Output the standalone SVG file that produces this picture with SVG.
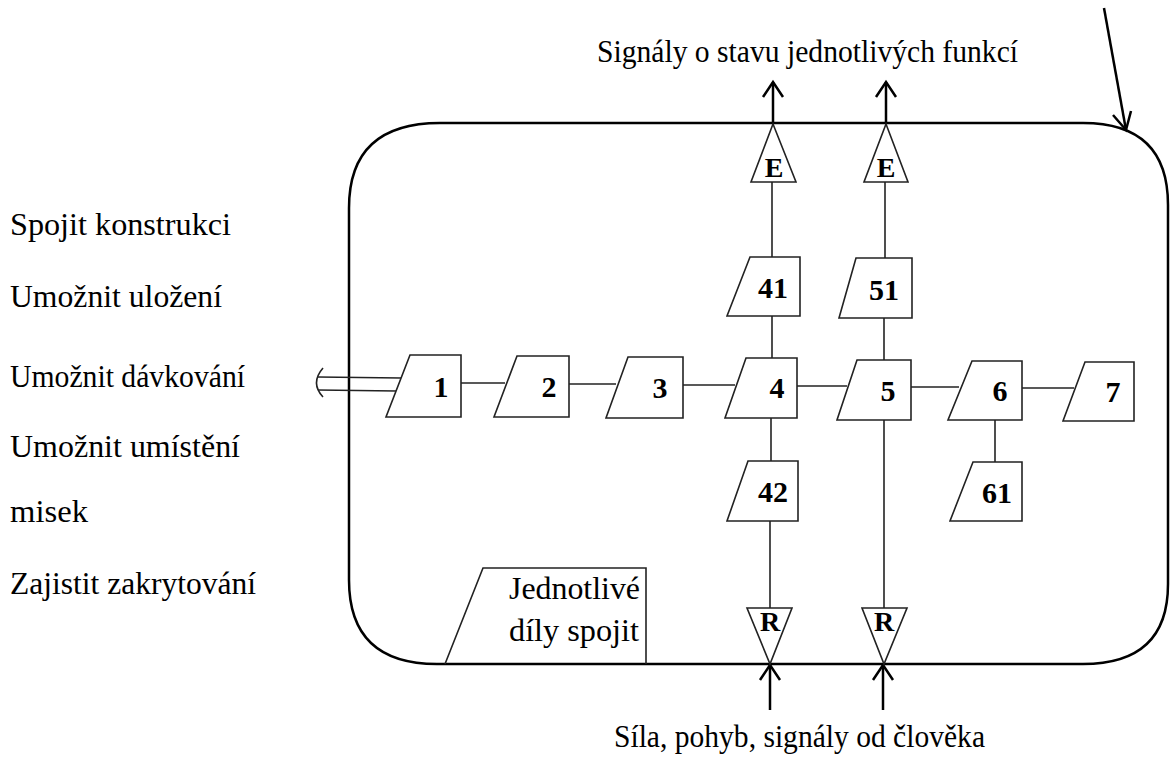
<svg xmlns="http://www.w3.org/2000/svg" width="1171" height="767" viewBox="0 0 1171 767">
<defs>
<style>
.frame{fill:none;stroke:#000;stroke-width:2.5}
.box{fill:#fff;stroke:#222;stroke-width:1.6}
.ln{fill:none;stroke:#222;stroke-width:1.6}
.arr{fill:none;stroke:#000;stroke-width:2.5}
.lbl{font-family:"Liberation Serif","Times New Roman",serif;font-size:31px;fill:#000}
.num{font-family:"Liberation Serif","Times New Roman",serif;font-size:30px;font-weight:bold;fill:#000;text-anchor:middle}
.tri{font-family:"Liberation Serif","Times New Roman",serif;font-size:28px;font-weight:bold;fill:#000;text-anchor:middle}
</style>
</defs>
<rect width="1171" height="767" fill="#fff"/>
<path class="frame" d="M440,123 H1083 Q1168,123 1168,205 V584 Q1168,664 1083,664 H437 Q349,664 349,580 V208 Q349,123 440,123 Z"/>

<g id="connectors">
<line class="ln" x1="461" y1="383" x2="505" y2="383"/>
<line class="ln" x1="569" y1="384" x2="616" y2="384"/>
<line class="ln" x1="683" y1="385" x2="735" y2="385"/>
<line class="ln" x1="797" y1="386" x2="847" y2="386"/>
<line class="ln" x1="911" y1="387" x2="959" y2="387"/>
<line class="ln" x1="1022" y1="388" x2="1074" y2="388"/>
<line class="ln" x1="772" y1="182" x2="772" y2="257"/>
<line class="ln" x1="772" y1="316" x2="772" y2="358"/>
<line class="ln" x1="771" y1="418" x2="771" y2="461"/>
<line class="ln" x1="770" y1="521" x2="770" y2="608"/>
<line class="ln" x1="885" y1="182" x2="885" y2="258"/>
<line class="ln" x1="884" y1="318" x2="884" y2="360"/>
<line class="ln" x1="884" y1="420" x2="884" y2="608"/>
<line class="ln" x1="995" y1="420" x2="995" y2="462"/>
<line class="ln" x1="318" y1="377" x2="401" y2="378"/>
<line class="ln" x1="318" y1="390" x2="396" y2="391"/>
<path class="ln" d="M323,368 Q310,383 323,397"/>
<line class="arr" x1="773" y1="123" x2="773" y2="82"/>
<polyline class="arr" points="763,97 773,82 783,97"/>
<line class="arr" x1="886" y1="123" x2="886" y2="82"/>
<polyline class="arr" points="876,97 886,82 896,97"/>
<line class="arr" x1="770" y1="710" x2="770" y2="665"/>
<polyline class="arr" points="760,680 770,665 780,680"/>
<line class="arr" x1="883" y1="710" x2="883" y2="665"/>
<polyline class="arr" points="873,680 883,665 893,680"/>
<line class="arr" x1="1104" y1="8" x2="1126" y2="130"/>
<polyline class="arr" points="1113,115 1126,130 1131,111"/>
</g>

<g id="n1"><polygon class="box" points="410,355 461,355 461,417 386,417"/><text class="num" x="441" y="397">1</text></g>
<g id="n2"><polygon class="box" points="517,356 569,356 569,417 494,417"/><text class="num" x="549" y="397">2</text></g>
<g id="n3"><polygon class="box" points="628,357 683,357 683,418 606,418"/><text class="num" x="660" y="398">3</text></g>
<g id="n4"><polygon class="box" points="746,358 797,358 797,418 725,418"/><text class="num" x="777" y="398">4</text></g>
<g id="n5"><polygon class="box" points="857,360 911,360 911,420 837,420"/><text class="num" x="888" y="401">5</text></g>
<g id="n6"><polygon class="box" points="972,361 1022,361 1022,420 948,420"/><text class="num" x="1000" y="401">6</text></g>
<g id="n7"><polygon class="box" points="1085,362 1134,362 1134,421 1063,421"/><text class="num" x="1113" y="402">7</text></g>
<g id="n41"><polygon class="box" points="750,257 800,257 800,316 727,316"/><text class="num" x="773" y="298">41</text></g>
<g id="n51"><polygon class="box" points="856,258 912,258 912,318 839,318"/><text class="num" x="884" y="300">51</text></g>
<g id="n42"><polygon class="box" points="748,461 798,461 798,521 727,521"/><text class="num" x="773" y="502">42</text></g>
<g id="n61"><polygon class="box" points="973,462 1022,462 1022,521 950,521"/><text class="num" x="997" y="503">61</text></g>

<g id="E1"><polygon class="box" points="773,124 796,182 751,182"/><text class="tri" x="774" y="177">E</text></g>
<g id="E2"><polygon class="box" points="886,124 908,182 864,182"/><text class="tri" x="886" y="177">E</text></g>
<g id="R1"><polygon class="box" points="747,608 792,608 770,664"/><text class="tri" x="770" y="631">R</text></g>
<g id="R2"><polygon class="box" points="862,608 907,608 884,664"/><text class="tri" x="884" y="631">R</text></g>

<g id="parts">
<polyline class="ln" points="445,664 483,568 646,568 646,664"/>
<text class="lbl" x="509" y="599" textLength="131" lengthAdjust="spacingAndGlyphs">Jednotlivé</text>
<text class="lbl" x="509" y="641" textLength="130" lengthAdjust="spacingAndGlyphs">díly spojit</text>
</g>

<g id="labels">
<text class="lbl" x="10" y="235" textLength="221" lengthAdjust="spacingAndGlyphs">Spojit konstrukci</text>
<text class="lbl" x="10" y="307" textLength="212" lengthAdjust="spacingAndGlyphs">Umožnit uložení</text>
<text class="lbl" x="10" y="387" textLength="235" lengthAdjust="spacingAndGlyphs">Umožnit dávkování</text>
<text class="lbl" x="10" y="457" textLength="230" lengthAdjust="spacingAndGlyphs">Umožnit umístění</text>
<text class="lbl" x="10" y="522" textLength="78" lengthAdjust="spacingAndGlyphs">misek</text>
<text class="lbl" x="10" y="594" textLength="246" lengthAdjust="spacingAndGlyphs">Zajistit zakrytování</text>
<text class="lbl" x="597" y="62" textLength="421" lengthAdjust="spacingAndGlyphs">Signály o stavu jednotlivých funkcí</text>
<text class="lbl" x="614" y="747" textLength="371" lengthAdjust="spacingAndGlyphs">Síla, pohyb, signály od člověka</text>
</g>
</svg>
